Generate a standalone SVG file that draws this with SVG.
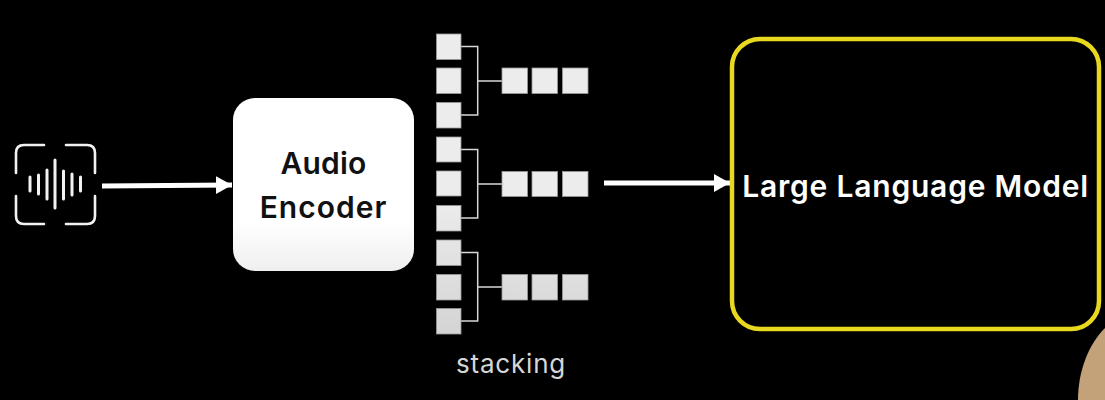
<svg xmlns="http://www.w3.org/2000/svg" width="1105" height="400" viewBox="0 0 1105 400">
<defs>
<style>
.t{font-family:"Inter","Liberation Sans",sans-serif;text-anchor:middle}
.b{font-weight:600;fill:#fff}
.e{font-weight:600;fill:#111;font-size:30px}
.ic{fill:none;stroke:#f2f2f2;stroke-width:2.6;stroke-linecap:round;stroke-linejoin:round}
.w{stroke:#f2f2f2;stroke-width:3;stroke-linecap:round}
.br{fill:none;stroke:#d8d8d8;stroke-width:1.5}
.ar{stroke:#fff;stroke-width:5;fill:none}
</style>
<linearGradient id="enc" x1="0" y1="0" x2="0" y2="1"><stop offset="0.72" stop-color="#fff"/><stop offset="1" stop-color="#efefef"/></linearGradient>
<linearGradient id="sq" gradientUnits="userSpaceOnUse" x1="0" y1="34" x2="0" y2="334"><stop offset="0" stop-color="#ececec"/><stop offset="0.55" stop-color="#ececec"/><stop offset="1" stop-color="#d4d4d4"/></linearGradient>
<marker id="ah" markerUnits="userSpaceOnUse" markerWidth="18" markerHeight="20" refX="16" refY="10" orient="auto"><path d="M0 1L16 10L0 19Z" fill="#fff"/></marker>
</defs>
<rect width="1105" height="400" fill="#000"/>
<path d="M1105 328C1088 345 1078 372 1078 400L1105 400Z" fill="#c3a279"/>
<g id="audio-icon">
<path class="ic" d="M16 173V153Q16 145 24 145H44M66 145H87Q95 145 95 153V173M16 196V216Q16 224 24 224H44M66 224H87Q95 224 95 216V196"/>
<path class="w" d="M30 177V191M38.500 175V194M47 170V199M55 160V208M63.500 171V199M72 174V195M80.500 177V191"/>
</g>
<g id="connectors">
<path class="ar" marker-end="url(#ah)" d="M102 186L232 185"/>
<path class="ar" marker-end="url(#ah)" d="M604 183L730 183"/>
<path class="br" d="M461 46.500H477.700V115H461M477.700 81H502"/>
<path class="br" d="M461 149.500H477.700V218H461M477.700 184H502"/>
<path class="br" d="M461 252.500H477.700V321H461M477.700 287H502"/>
</g>
<g id="audio-encoder">
<rect x="233" y="98" width="181" height="173" rx="22" fill="url(#enc)"/>
<text class="t e" x="323.500" y="173.500" letter-spacing="0.2">Audio</text>
<text class="t e" x="323.500" y="218" letter-spacing="1">Encoder</text>
</g>
<g id="stack-left" fill="url(#sq)" stroke="#9a9a9a" stroke-width="0.8">
<rect x="436.500" y="34" width="24.500" height="25.500"/>
<rect x="436.500" y="68" width="24.500" height="25.500"/>
<rect x="436.500" y="102.500" width="24.500" height="25.500"/>
<rect x="436.500" y="137" width="24.500" height="25"/>
<rect x="436.500" y="171" width="24.500" height="25"/>
<rect x="436.500" y="205.500" width="24.500" height="25.500"/>
<rect x="436.500" y="240" width="24.500" height="25.500"/>
<rect x="436.500" y="274.500" width="24.500" height="25.500"/>
<rect x="436.500" y="308.500" width="24.500" height="25.500"/>
</g>
<g id="stack-right" fill="url(#sq)" stroke="#9a9a9a" stroke-width="0.8">
<rect x="502" y="68" width="25.500" height="25.500"/>
<rect x="532" y="68" width="25.500" height="25.500"/>
<rect x="562.500" y="68" width="25.500" height="25.500"/>
<rect x="502" y="171.500" width="25.500" height="25"/>
<rect x="532" y="171.500" width="25.500" height="25"/>
<rect x="562.500" y="171.500" width="25.500" height="25"/>
<rect x="502" y="274.500" width="25.500" height="25.500"/>
<rect x="532" y="274.500" width="25.500" height="25.500"/>
<rect x="562.500" y="274.500" width="25.500" height="25.500"/>
</g>
<g id="stacking-label"><text class="t" x="511" y="373" font-size="26" letter-spacing="0.8" fill="#d6d6d6">stacking</text></g>
<g id="large-language-model">
<rect x="732" y="39" width="367" height="290" rx="28" fill="none" stroke="#e8d81e" stroke-width="4.500"/>
<text class="t b" x="915.500" y="197" font-size="30" letter-spacing="0.8">Large Language Model</text>
</g>
</svg>
